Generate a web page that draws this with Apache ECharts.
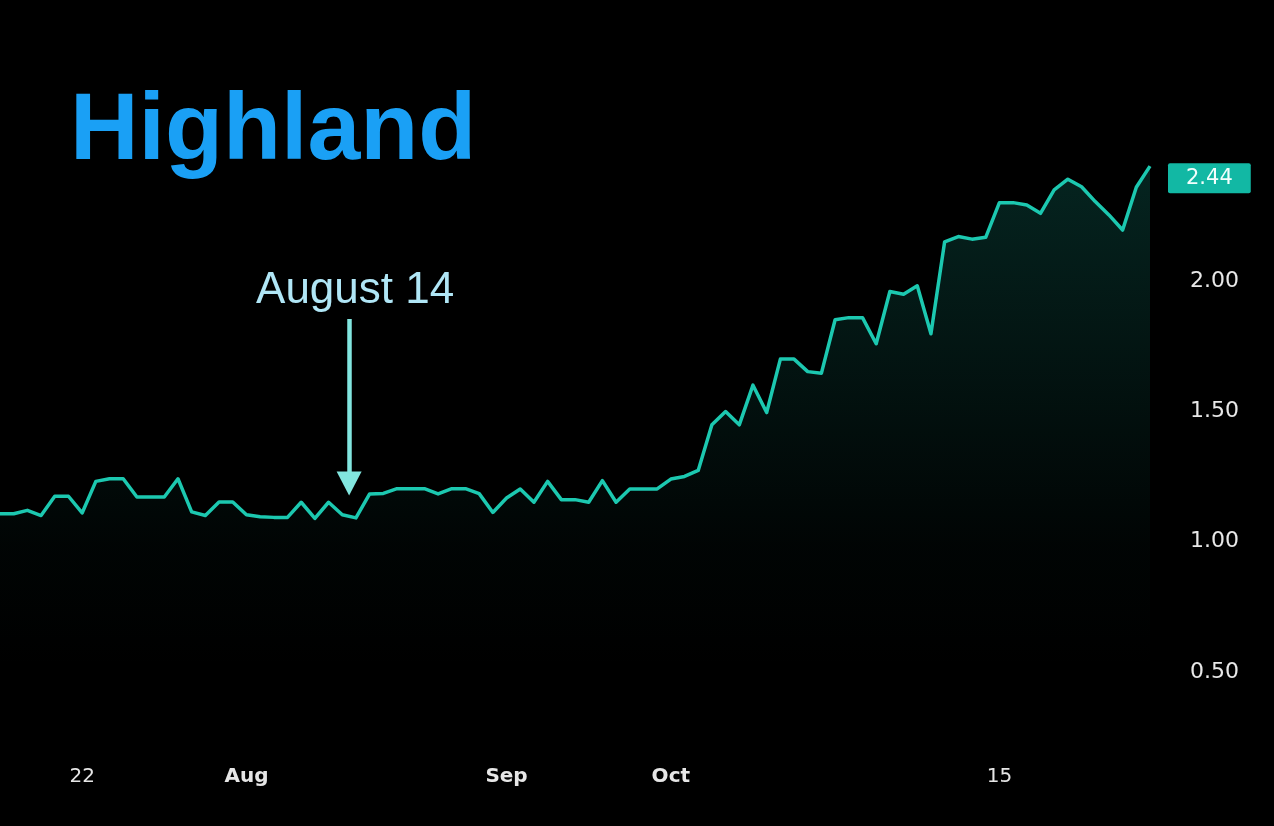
<!DOCTYPE html>
<html>
<head>
<meta charset="utf-8">
<script src="https://cdn.jsdelivr.net/npm/echarts@6/dist/echarts.min.js"></script>
<style>
  html, body { margin: 0; padding: 0; background: #000; }
  #chart { width: 1274px; height: 826px; }
</style>
</head>
<body>
<div id="chart"></div>
<script>
// ---- data ----
const values = [
  1.107, 1.107, 1.12, 1.10, 1.174, 1.174, 1.11, 1.231, 1.241, 1.241,
  1.171, 1.171, 1.171, 1.241, 1.114, 1.10, 1.152, 1.152, 1.103, 1.095,
  1.093, 1.093, 1.151, 1.089, 1.151, 1.103, 1.091, 1.183, 1.185, 1.203,
  1.203, 1.203, 1.183, 1.203, 1.203, 1.184, 1.112, 1.167, 1.202, 1.151,
  1.231, 1.161, 1.161, 1.151, 1.234, 1.151, 1.202, 1.202, 1.202, 1.240,
  1.250, 1.273, 1.448, 1.499, 1.448, 1.60, 1.495, 1.70, 1.70, 1.652,
  1.646, 1.851, 1.859, 1.859, 1.759, 1.959, 1.949, 1.981, 1.797, 2.15,
  2.170, 2.16, 2.167, 2.30, 2.30, 2.291, 2.259, 2.349, 2.39, 2.361,
  2.304, 2.253, 2.195, 2.359, 2.44
];
const tickIndex = [6, 18, 37, 49, 73];
const tickText  = ['22', 'Aug', 'Sep', 'Oct', '15'];
const tickBold  = [false, true, true, true, false];
const yTicks = [0.5, 1.0, 1.5, 2.0];
const titleText = 'Highland';
const annotationText = 'August 14';
const annotationX = 25.5;
const annotationTop = 1.854;
const annotationEnd = 1.223;
const annotationLabelY = 1.962;

const lineColor = '#1cc8b0';

const chart = echarts.init(document.getElementById('chart'), null, { renderer: 'canvas' });
const seriesData = values.map((v, i) => [i, v]);
const lastIdx = values.length - 1;

const option = {
  backgroundColor: '#000000',
  animation: false,
  title: {
    text: titleText,
    left: 70,
    top: 85,
    padding: 0,
    textStyle: {
      fontFamily: 'Liberation Sans',
      fontWeight: 'bold',
      fontSize: 95,
      color: '#1aa0f5'
    }
  },
  grid: {
    left: 0, right: 124, top: 150.5, bottom: 154,
    containLabel: false,
    outerBoundsMode: 'none'
  },
  xAxis: {
    type: 'value',
    min: 0,
    max: lastIdx,
    interval: 1,
    axisLine: { show: false },
    axisTick: { show: false },
    splitLine: { show: false },
    axisLabel: {
      margin: 95,
      color: '#e6e6e6',
      fontFamily: 'DejaVu Sans',
      fontSize: 20,
      formatter: function (v) {
        const k = tickIndex.indexOf(Math.round(v));
        if (k < 0 || Math.abs(v - Math.round(v)) > 1e-6) return '';
        return tickBold[k] ? '{b|' + tickText[k] + '}' : '{r|' + tickText[k] + '}';
      },
      rich: {
        b: { fontFamily: 'DejaVu Sans', fontSize: 20, fontWeight: 'bold', color: '#e6e6e6' },
        r: { fontFamily: 'DejaVu Sans', fontSize: 20, fontWeight: 'normal', color: '#e6e6e6' }
      }
    }
  },
  yAxis: {
    type: 'value',
    position: 'right',
    min: 0.5,
    max: 2.5,
    interval: 0.5,
    axisLine: { show: false },
    axisTick: { show: false },
    splitLine: { show: false },
    axisLabel: {
      margin: 40,
      color: '#e8e8e8',
      fontFamily: 'DejaVu Sans',
      fontSize: 22,
      padding: [4, 0, 0, 0],
      formatter: function (v) {
        return yTicks.some(t => Math.abs(t - v) < 1e-6) ? v.toFixed(2) : '';
      }
    }
  },
  series: [{
    type: 'line',
    data: seriesData,
    showSymbol: false,
    symbol: 'none',
    lineStyle: { color: lineColor, width: 3.5, join: 'round' },
    areaStyle: {
      origin: 'start',
      color: new echarts.graphic.LinearGradient(0, 0, 0, 1, [
        { offset: 0, color: 'rgba(28,200,176,0.26)' },
        { offset: 0.75, color: 'rgba(28,200,176,0.03)' },
        { offset: 1, color: 'rgba(28,200,176,0)' }
      ])
    },
    endLabel: {
      show: true,
      formatter: function (p) { return p.value[1].toFixed(2); },
      distance: 18,
      offset: [0, 12],
      backgroundColor: '#12b8a4',
      color: '#f2fffd',
      fontFamily: 'DejaVu Sans',
      fontSize: 21,
      lineHeight: 22,
      padding: [4, 18, 4, 18],
      borderRadius: 2
    },
    markLine: {
      silent: true,
      symbol: ['none', 'triangle'],
      symbolSize: [25, 24],
      label: { show: false },
      lineStyle: { color: '#82e6df', width: 4.5, type: 'solid' },
      emphasis: { disabled: true },
      data: [[
        { coord: [annotationX, annotationTop] },
        { coord: [annotationX, annotationEnd] }
      ]]
    },
    markPoint: {
      silent: true,
      symbol: 'circle',
      symbolSize: 1,
      itemStyle: { color: 'rgba(0,0,0,0)' },
      label: {
        show: true,
        position: 'inside',
        offset: [6, 0],
        formatter: annotationText,
        fontFamily: 'Liberation Sans',
        fontSize: 44,
        color: '#b0e6f6'
      },
      data: [{ coord: [annotationX, annotationLabelY] }]
    }
  }]
};
chart.setOption(option);
</script>
</body>
</html>
